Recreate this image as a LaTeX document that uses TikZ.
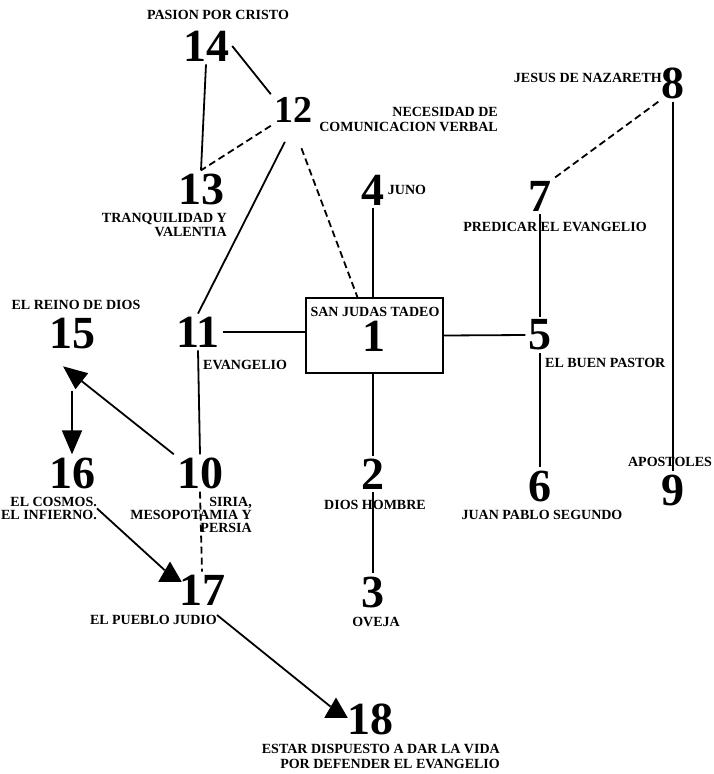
\documentclass[tikz,border=0pt]{standalone}
\usepackage{fontspec}
\setmainfont{Liberation Serif}
\usetikzlibrary{arrows.meta, shapes.geometric, positioning}
\newcommand{\numfont}{\fontsize{46}{46}\selectfont\bfseries}
\newcommand{\lblfont}{\fontsize{14}{15}\selectfont\bfseries}

\begin{document}
\begin{tikzpicture}[x=1pt, y=-1pt,
    num/.style={font=\numfont, inner sep=3pt},
    smallnum/.style={num, font=\fontsize{38}{38}\selectfont\bfseries},
    lbl/.style={font=\lblfont, inner sep=0pt},
    link/.style={line width=1.8pt},
    dashlink/.style={link, dash pattern=on 7pt off 4pt},
    arr/.style={link, -{Triangle[length=24pt, width=20pt]}},
    tri/.style={regular polygon, regular polygon sides=3, fill,
                inner sep=0pt, minimum size=27pt}
  ]
  \useasboundingbox (0,0) rectangle (714,774);

  % centro
  \node[draw, line width=1.4pt, minimum width=137pt, minimum height=75pt,
        inner sep=0pt] (box) at (374.5,335.5) {};
  \node[num] (n1) at (374,336) {1};
  \node[lbl, anchor=north] (l1) at (375,307) {SAN JUDAS TADEO};

  % numeros
  \node[num] (n14) at (206,46) {14};
  \node[smallnum] (n12) at (293,110) {12};
  \node[num] (n13) at (201,189) {13};
  \node[num] (n4) at (373,190) {4};
  \node[num] (n8) at (673,83) {8};
  \node[num] (n7) at (540,196) {7};
  \node[num] (n11) at (198,332) {11};
  \node[num] (n5) at (540,335) {5};
  \node[num] (n15) at (72,334) {15};
  \node[num] (n16) at (72,473) {16};
  \node[num] (n10) at (200,473) {10};
  \node[num] (n2) at (373,474) {2};
  \node[num] (n6) at (540,486) {6};
  \node[num] (n9) at (673,490) {9};
  \node[num] (n17) at (202,590) {17};
  \node[num] (n3) at (373,592) {3};
  \node[num] (n18) at (370,719) {18};

  % textos
  \node[lbl, anchor=north] (l14) at (218,10) {PASION POR CRISTO};
  \node[lbl, anchor=north east, align=right] (l12) at (498,107)
    {NECESIDAD DE\\COMUNICACION VERBAL};
  \node[lbl, anchor=north east, align=right,
        font=\fontsize{14}{14}\selectfont\bfseries] (l13) at (227,213)
    {TRANQUILIDAD Y\\VALENTIA};
  \node[lbl, right=0pt of n4] (l4) {JUNO};
  \node[lbl, anchor=north east] (l8) at (662,73) {JESUS DE NAZARETH};
  \node[lbl, anchor=north] (l7) at (555,222) {PREDICAR EL EVANGELIO};
  \node[lbl, anchor=north west] (l11) at (203,360) {EVANGELIO};
  \node[lbl, anchor=north west] (l5) at (545,358) {EL BUEN PASTOR};
  \node[lbl, anchor=north] (l15) at (76,300) {EL REINO DE DIOS};
  \node[lbl, anchor=north east, align=right,
        font=\fontsize{14}{13}\selectfont\bfseries] (l16) at (97,497)
    {EL COSMOS.\\EL INFIERNO.};
  \node[lbl, anchor=north east, align=right,
        font=\fontsize{14}{13}\selectfont\bfseries] (l10) at (252,497)
    {SIRIA,\\MESOPOTAMIA Y\\PERSIA};
  \node[lbl, anchor=north] (l2) at (375,500) {DIOS HOMBRE};
  \node[lbl, anchor=north] (l6) at (542,510) {JUAN PABLO SEGUNDO};
  \node[lbl, anchor=north] (l9) at (670,457) {APOSTOLES};
  \node[lbl, anchor=north east] (l17) at (217,615) {EL PUEBLO JUDIO};
  \node[lbl, anchor=north] (l3) at (376,617) {OVEJA};
  \node[lbl, anchor=north east, align=right] (l18) at (500,744)
    {ESTAR DISPUESTO A DAR LA VIDA\\POR DEFENDER EL EVANGELIO};

  \node[tri] (t17) at (170,575) {};
  \node[tri] (t18) at (336,711) {};

  % conexiones
  \draw[link] (n14.east) -- (n12.north west);
  \draw[link] (n14.south) -- (n13.north);
  \draw[dashlink] (n12.south west) -- (n13.north);
  \draw[link, shorten <=18pt] (n12.south) -- (n11.north);
  \draw[dashlink, shorten <=24pt] (n12.south) -- (box.114);
  \draw[link] (n4.south) -- (n4.south |- box.north);
  \draw[dashlink] (n8.south west) -- (n7.north east);
  \draw[link] (n8.south) -- (n9.north);
  \draw[link] (n7.south) -- (n5.north);
  \draw[link] (box.east) -- (n5.west);
  \draw[link] (n11.east) -- (n11.east -| box.west);
  \draw[link] (n5.south) -- (n6.north);
  \draw[link] (n2 |- box.south) -- (n2.north);
  \draw[link] (n2.south) -- (n3.north);
  \draw[link] (n11.south) -- (n10.north);
  \draw[arr, shorten >=22pt] (n10.north west) -- (n15.south west);
  \draw[arr, shorten <=38pt] (n15.south) -- (n16.north);
  \draw[dashlink] (n10.south) -- (n17.north);
  \draw[link] (l16.east) -- (t17);
  \draw[link] (l17.north east) -- (t18);
\end{tikzpicture}
\end{document}
